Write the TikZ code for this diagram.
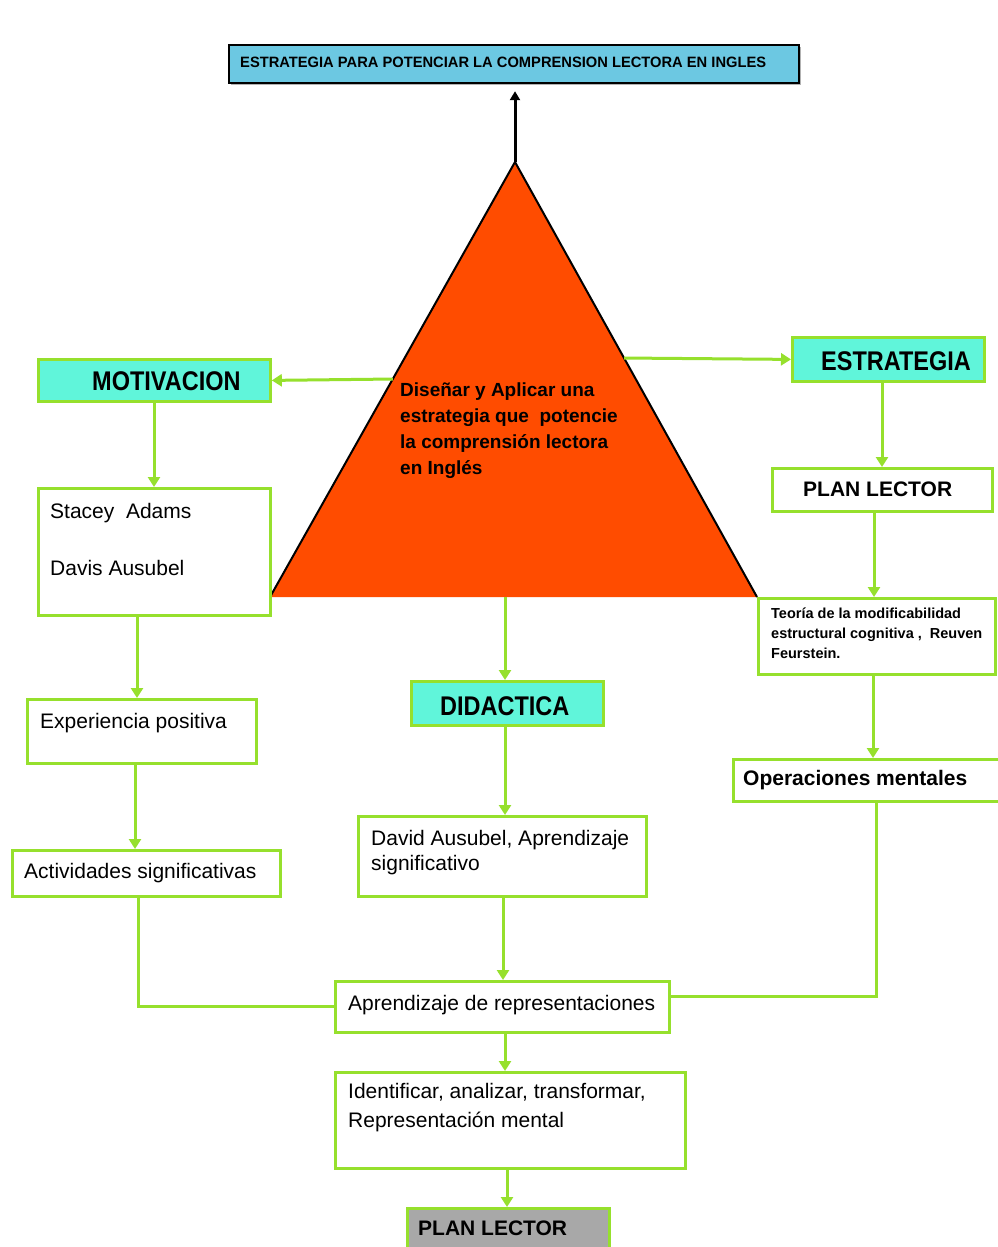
\documentclass[tikz,border=0pt]{standalone}
\usepackage{fontspec}
\setmainfont{Liberation Sans}
\newfontfamily\condfont[FakeStretch=0.87]{Liberation Sans}
\newfontfamily\titlefont[FakeStretch=0.98]{Liberation Sans}
\usetikzlibrary{arrows.meta,shadows,calc}
\definecolor{lgreen}{RGB}{150,224,45}
\definecolor{aqua}{RGB}{96,245,218}
\definecolor{tblue}{RGB}{108,200,226}
\definecolor{trired}{RGB}{255,76,0}
\definecolor{gbox}{RGB}{168,168,168}
\begin{document}
\begin{tikzpicture}[x=1pt,y=-1pt,
  box/.style={draw=lgreen, line width=2.8pt, anchor=north west, inner sep=0pt, fill=white},
  hbox/.style={box, fill=aqua},
  arr/.style={draw=lgreen, line width=3pt, -{Triangle[width=12pt,length=10pt]}},
  ln/.style={draw=lgreen, line width=3pt},
  hd/.style={font=\condfont\bfseries\fontsize{27}{30}\selectfont, inner sep=0pt, anchor=west},
  bhd/.style={font=\bfseries\fontsize{21}{24}\selectfont, inner sep=0pt, anchor=west},
  txt/.style={font=\fontsize{21}{24}\selectfont, inner sep=0pt, anchor=base west},
  mtxt/.style={inner sep=0pt, anchor=north west, align=left}
]
\useasboundingbox (0,0) rectangle (997,1247);
\fill[white] (0,0) rectangle (997,1247);

% title
\node[draw=black, line width=2.2pt, fill=tblue, anchor=north west, inner sep=0pt,
      minimum width=570pt, minimum height=38pt,
      drop shadow={shadow xshift=2pt, shadow yshift=-2pt, opacity=0.6}] (title) at (228,44) {};
\node[font=\titlefont\bfseries\fontsize{15}{18}\selectfont, inner sep=0pt, anchor=west] (titlet) at (240,62)
  {ESTRATEGIA PARA POTENCIAR LA COMPRENSION LECTORA EN INGLES};

% triangle
\coordinate (apex) at (515,162);
\coordinate (bl) at (270,597);
\coordinate (br) at (757,597);
\fill[trired] (apex) -- (bl) -- (br) -- cycle;
\draw[black, line width=2pt, line join=round] (bl) -- (apex) -- (br);
\node[mtxt, font=\bfseries\fontsize{19}{26}\selectfont] (trit) at (400,383)
  {Diseñar y Aplicar una\\estrategia que\ \ potencie\\la comprensión lectora\\en Inglés};
\draw[black, line width=3pt, -{Triangle[width=10pt,length=9pt]}, shorten >=7pt] (apex) -- (apex |- title.south);

% boxes
\node[hbox, minimum width=232pt, minimum height=42pt] (motiv) at (37,358) {};
\node[hd] (motivt) at (92,381) {MOTIVACION};
\node[hbox, minimum width=192pt, minimum height=44pt] (estr) at (791,336) {};
\node[hd] (estrt) at (821,361) {ESTRATEGIA};
\node[hbox, minimum width=192pt, minimum height=44pt] (didac) at (410,680) {};
\node[hd] (didact) at (440,706) {DIDACTICA};

\node[box, minimum width=232pt, minimum height=127pt] (stacey) at (37,487) {};
\node[txt, align=left, font=\fontsize{21}{57}\selectfont, anchor=north west] (staceyt) at (50,503) {Stacey\ \ Adams\\Davis Ausubel};
\node[box, minimum width=229pt, minimum height=64pt] (exper) at (26,698) {};
\node[txt] (expert) at (40,728) {Experiencia positiva};
\node[box, minimum width=268pt, minimum height=46pt] (activ) at (11,849) {};
\node[txt] (activt) at (24,878) {Actividades significativas};

\node[box, minimum width=288pt, minimum height=80pt] (david) at (357,815) {};
\node[mtxt, font=\fontsize{21}{25}\selectfont] (davidt) at (371,830) {David Ausubel, Aprendizaje\\significativo};
\node[box, minimum width=334pt, minimum height=51pt] (apren) at (334,980) {};
\node[txt] (arent) at (348,1010) {Aprendizaje de representaciones};
\node[box, minimum width=350pt, minimum height=96pt] (ident) at (334,1071) {};
\node[mtxt, font=\fontsize{21}{29}\selectfont] (identt) at (348,1083) {Identificar, analizar, transformar,\\Representación mental};
\node[box, fill=gbox, minimum width=202pt, minimum height=60pt] (plan2) at (406,1207) {};
\node[bhd] (plan2t) at (418,1228) {PLAN LECTOR};

\node[box, minimum width=220pt, minimum height=43pt] (plan1) at (771,467) {};
\node[bhd] (plan1t) at (803,489) {PLAN LECTOR};
\node[box, minimum width=237pt, minimum height=76pt] (teoria) at (757,597) {};
\node[mtxt, font=\bfseries\fontsize{14.5}{20}\selectfont] (teoriat) at (771,608)
  {Teoría de la modificabilidad\\estructural cognitiva ,\ \ Reuven\\Feurstein.};
\node[box, minimum width=275pt, minimum height=42pt] (oper) at (732,758) {};
\node[txt, font=\bfseries\fontsize{21}{24}\selectfont] (opert) at (743,785) {Operaciones mentales};

% connectors
\draw[arr] ($(apex)!0.4989!(bl)$) -- (motiv.east);
\draw[arr] ($(apex)!0.4506!(br)$) -- (estr.west);
\draw[arr] (505,597) coordinate (tb) -- (tb |- didac.north);
\draw[arr] ([xshift=117]motiv.south west) -- ([xshift=117]stacey.north west);
\draw[arr] ([xshift=100]stacey.south west) -- ([xshift=111]exper.north west);
\draw[arr] ([xshift=109]exper.south west) -- ([xshift=124]activ.north west);
\draw[ln] ([xshift=127]activ.south west) |- (apren.west);
\draw[arr] ([xshift=95]didac.south west) -- ([xshift=148]david.north west);
\draw[arr] ([xshift=146]david.south west) -- ([xshift=169]apren.north west);
\draw[arr] ([xshift=171]apren.south west) -- ([xshift=171]ident.north west);
\draw[arr] ([xshift=173]ident.south west) -- ([xshift=101]plan2.north west);
\draw[arr] ([xshift=91]estr.south west) -- ([xshift=111]plan1.north west);
\draw[arr] ([xshift=103]plan1.south west) -- ([xshift=117]teoria.north west);
\draw[arr] ([xshift=116]teoria.south west) -- ([xshift=141]oper.north west);
\draw[ln] ([xshift=144]oper.south west) |- ([yshift=-16]apren.north east);
\end{tikzpicture}
\end{document}
